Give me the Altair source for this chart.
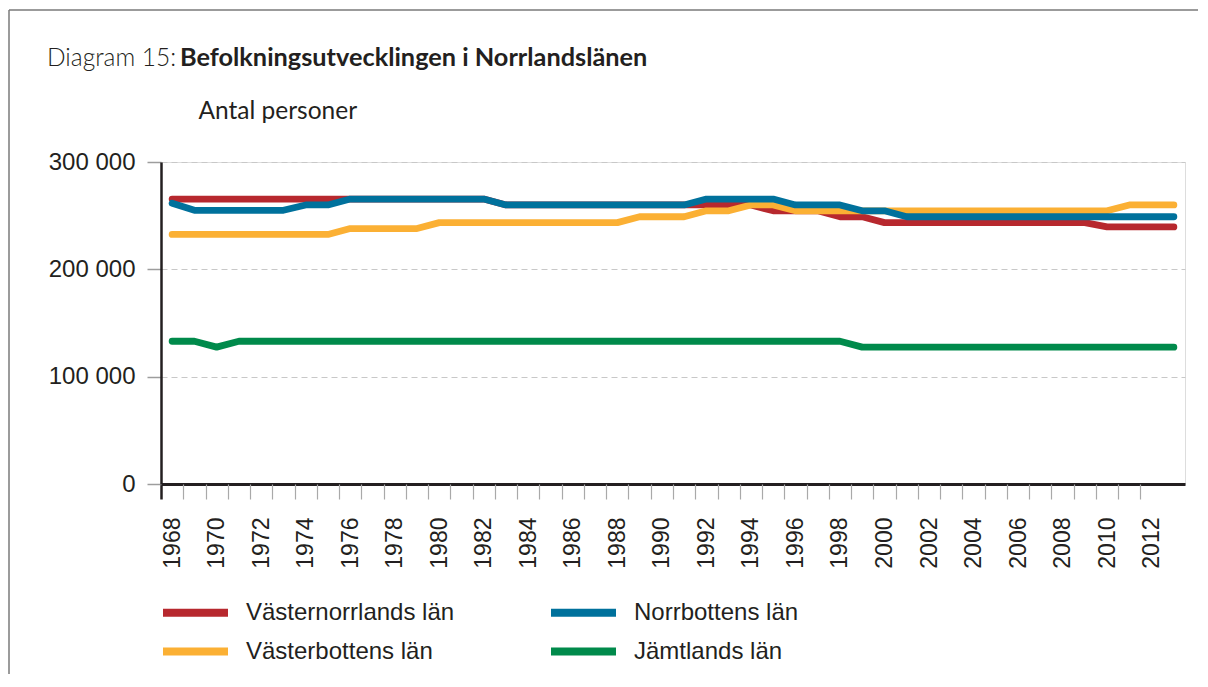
import altair as alt
import pandas as pd

# ---------------- data ----------------
years = [1968, 1969, 1970, 1971, 1972, 1973, 1974, 1975, 1976, 1977,
         1978, 1979, 1980, 1981, 1982, 1983, 1984, 1985, 1986, 1987,
         1988, 1989, 1990, 1991, 1992, 1993, 1994, 1995, 1996, 1997,
         1998, 1999, 2000, 2001, 2002, 2003, 2004, 2005, 2006, 2007,
         2008, 2009, 2010, 2011, 2012, 2013]

vasternorrland = [265500, 265500, 265500, 265500, 265500, 265500, 265500, 265500, 265500, 265500,
                  265500, 265500, 265500, 265500, 265500, 260000, 260000, 260000, 260000, 260000,
                  260000, 260000, 260000, 260000, 260000, 260000, 260000, 254500, 254500, 254500,
                  249000, 249000, 243500, 243500, 243500, 243500, 243500, 243500, 243500, 243500,
                  243500, 243500, 239500, 239500, 239500, 239500]

vasterbotten = [232500, 232500, 232500, 232500, 232500, 232500, 232500, 232500, 238000, 238000,
                238000, 238000, 243500, 243500, 243500, 243500, 243500, 243500, 243500, 243500,
                243500, 249000, 249000, 249000, 254500, 254500, 260000, 260000, 254500, 254500,
                254500, 254500, 254500, 254500, 254500, 254500, 254500, 254500, 254500, 254500,
                254500, 254500, 254500, 260000, 260000, 260000]

norrbotten = [261500, 255000, 255000, 255000, 255000, 255000, 260000, 260000, 265500, 265500,
              265500, 265500, 265500, 265500, 265500, 260000, 260000, 260000, 260000, 260000,
              260000, 260000, 260000, 260000, 265500, 265500, 265500, 265500, 260000, 260000,
              260000, 254500, 254500, 249000, 249000, 249000, 249000, 249000, 249000, 249000,
              249000, 249000, 249000, 249000, 249000, 249000]

jamtland = [133000, 133000, 127500, 133000, 133000, 133000, 133000, 133000, 133000, 133000,
            133000, 133000, 133000, 133000, 133000, 133000, 133000, 133000, 133000, 133000,
            133000, 133000, 133000, 133000, 133000, 133000, 133000, 133000, 133000, 133000,
            133000, 127500, 127500, 127500, 127500, 127500, 127500, 127500, 127500, 127500,
            127500, 127500, 127500, 127500, 127500, 127500]

# drawing order (bottom to top) and legend order (filled column by column)
series_names = ["Västernorrlands län", "Västerbottens län", "Norrbottens län", "Jämtlands län"]
series_values = [vasternorrland, vasterbotten, norrbotten, jamtland]
series_colors = ["#b7282e", "#fbb034", "#00719c", "#008a4b"]

y_ticks = [0, 100000, 200000, 300000]
x_label_years = [1968, 1970, 1972, 1974, 1976, 1978, 1980, 1982, 1984, 1986, 1988, 1990,
                 1992, 1994, 1996, 1998, 2000, 2002, 2004, 2006, 2008, 2010, 2012]

title_light = "Diagram 15:"
title_bold = "Befolkningsutvecklingen i Norrlandslänen"
y_title = "Antal personer"

# ---------------- build table ----------------
rows = []
for name, vals in zip(series_names, series_values):
    for yr, v in zip(years, vals):
        rows.append({"lan": name, "year": yr, "value": v})
df = pd.DataFrame(rows)

INK = "#231f20"
AXFONT = "Liberation Sans"
TFONT = "Lato"

x_scale = alt.Scale(domain=[years[0] - 0.5, years[-1] + 0.5], nice=False, zero=False)
y_scale = alt.Scale(domain=[0, 300000], nice=False)
color_scale = alt.Scale(domain=series_names, range=series_colors)

x_label_axis = alt.Axis(
    values=x_label_years, format="d", labelAngle=-90, labelAlign="right",
    labelBaseline="middle", ticks=False, tickSize=0, labelPadding=33,
    labelFont=AXFONT, labelFontSize=23, labelColor=INK, labelFlush=False,
    labelOverlap=False, domainColor=INK, domainWidth=3, grid=False, title=None,
    orient="bottom",
)

tick_values = [y - 0.5 for y in years[:-1]]
x_tick_axis = alt.Axis(
    values=tick_values, labels=False, domain=False, tickSize=15,
    tickColor={"condition": {"test": "datum.value == %s" % tick_values[0], "value": INK},
               "value": "#a9a9a9"},
    tickWidth={"condition": {"test": "datum.value == %s" % tick_values[0], "value": 2.5},
               "value": 1.2},
    grid=False, title=None, orient="bottom",
)

y_axis = alt.Axis(
    values=y_ticks,
    labelExpr="datum.value == 0 ? '0' : format(datum.value / 1000, 'd') + ' 000'",
    title=y_title, titleAngle=0, titleAlign="left", titleBaseline="alphabetic",
    titleX=37, titleY=-44, titleFont=TFONT, titleFontSize=24.5, titleFontWeight="normal",
    titleColor=INK, labelFont=AXFONT, labelFontSize=24, labelColor=INK, labelPadding=12,
    tickSize=14, tickColor="#9d9d9d", tickWidth=1.5, domainColor=INK, domainWidth=2.5,
    grid=True, gridColor="#c8c8c8", gridDash=[6, 4], gridWidth=1,
)

legend = alt.Legend(
    title=None, orient="none", legendX=-2, legendY=439, columns=2,
    symbolType="stroke", symbolSize=4225, symbolStrokeWidth=8, clipHeight=23,
    labelFont=AXFONT, labelFontSize=24, labelColor=INK, labelOffset=14,
    columnPadding=92, rowPadding=14, padding=0, labelLimit=400,
)


def line_layer(i):
    return alt.Chart(df).transform_filter(
        alt.datum.lan == series_names[i]
    ).mark_line(strokeWidth=6.8, strokeCap="round", strokeJoin="round").encode(
        x=alt.X("year:Q", scale=x_scale, axis=x_label_axis if i == 0 else None),
        y=alt.Y("value:Q", scale=y_scale, axis=y_axis),
        color=alt.Color("lan:N", scale=color_scale, legend=legend),
    )


line_layers = [line_layer(i) for i in range(len(series_names))]

ticks_layer = alt.Chart(df).mark_point(opacity=0).encode(
    x=alt.X("year:Q", scale=x_scale, axis=x_tick_axis),
)

one = pd.DataFrame({"a": [0]})
frame_top = alt.Chart(one).mark_rule(stroke="#7a7a7a", strokeWidth=1.5).encode(
    x=alt.value(-152), x2=alt.value(1037), y=alt.value(-152)
)
frame_left = alt.Chart(one).mark_rule(stroke="#7a7a7a", strokeWidth=1.5).encode(
    x=alt.value(-152), y=alt.value(-152), y2=alt.value(700)
)

t1 = alt.Chart(pd.DataFrame({"t": [title_light]})).mark_text(
    font=TFONT, fontSize=24.5, fontWeight=300, color=INK, align="left", baseline="alphabetic"
).encode(text="t:N", x=alt.value(-114), y=alt.value(-96))

t2 = alt.Chart(pd.DataFrame({"t": [title_bold]})).mark_text(
    font=TFONT, fontSize=25.3, fontWeight="bold", color=INK, align="left", baseline="alphabetic"
).encode(text="t:N", x=alt.value(19), y=alt.value(-96))

chart = alt.layer(frame_top, frame_left, *line_layers, ticks_layer, t1, t2).resolve_axis(
    x="independent"
).properties(
    width=1024, height=322,
    padding={"left": 153, "top": 154, "right": 15, "bottom": 190},
    autosize=alt.AutoSizeParams(type="none"),
).configure_view(stroke=None).configure(background="white")

chart.save("out.html", embed_options={"renderer": "svg", "actions": False})
